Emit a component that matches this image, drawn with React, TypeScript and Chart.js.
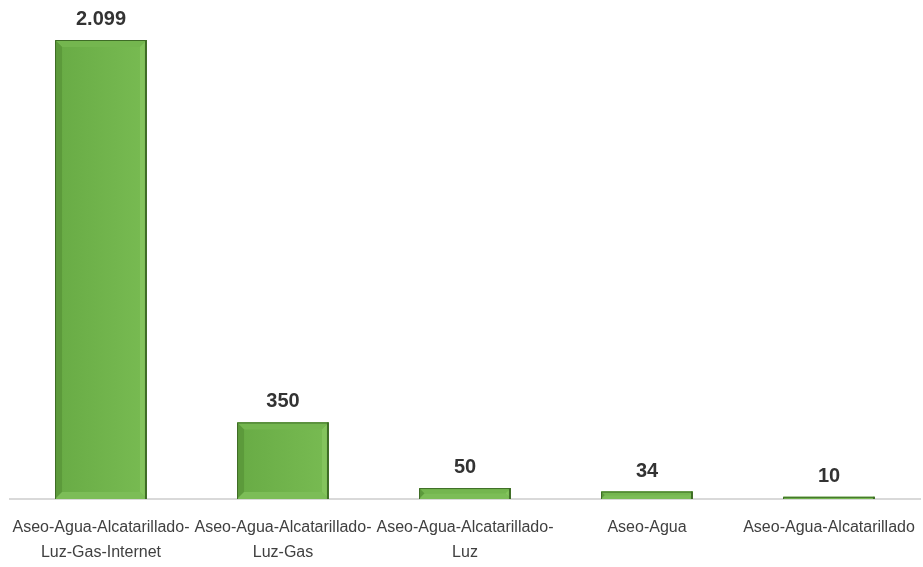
import React, { useEffect, useRef } from "react";
import { Chart, registerables } from "chart.js";

Chart.register(...registerables);

const categories: string[][] = [
  ["Aseo-Agua-Alcatarillado-", "Luz-Gas-Internet"],
  ["Aseo-Agua-Alcatarillado-", "Luz-Gas"],
  ["Aseo-Agua-Alcatarillado-", "Luz"],
  ["Aseo-Agua"],
  ["Aseo-Agua-Alcatarillado"],
];
const values: number[] = [2099, 350, 50, 34, 10];
const valueLabels: string[] = ["2.099", "350", "50", "34", "10"];

const FONT = "'Liberation Sans Narrow', 'Arial Narrow', 'Liberation Sans', sans-serif";

const bevelPlugin = {
  id: "bevel",
  afterDatasetDraw(chart: any) {
    const ctx = chart.ctx;
    const meta = chart.getDatasetMeta(0);
    meta.data.forEach((bar: any, i: number) => {
      const { x, y, base, width } = bar.getProps(["x", "y", "base", "width"], true);
      const l = x - width / 2;
      const r = x + width / 2;
      const t = y;
      const b = base;
      const h = b - t;
      const bw = Math.min(7, h / 2);
      ctx.save();
      const g = ctx.createLinearGradient(l, 0, r, 0);
      g.addColorStop(0, "#68ab45");
      g.addColorStop(1, "#78bb52");
      ctx.fillStyle = g;
      ctx.fillRect(l, t, r - l, h);
      if (h > 4) {
        ctx.fillStyle = "#74b64f";
        ctx.beginPath();
        ctx.moveTo(l, t);
        ctx.lineTo(r, t);
        ctx.lineTo(r - bw, t + bw);
        ctx.lineTo(l + bw, t + bw);
        ctx.closePath();
        ctx.fill();
        ctx.fillStyle = "#5c9a3b";
        ctx.beginPath();
        ctx.moveTo(l, t);
        ctx.lineTo(l + bw, t + bw);
        ctx.lineTo(l + bw, b - bw);
        ctx.lineTo(l, b);
        ctx.closePath();
        ctx.fill();
        ctx.fillStyle = "#84c45d";
        ctx.beginPath();
        ctx.moveTo(r, t);
        ctx.lineTo(r - bw, t + bw);
        ctx.lineTo(r - bw, b - bw);
        ctx.lineTo(r, b);
        ctx.closePath();
        ctx.fill();
        ctx.fillStyle = "#7cbd57";
        ctx.beginPath();
        ctx.moveTo(l, b);
        ctx.lineTo(l + bw, b - bw);
        ctx.lineTo(r - bw, b - bw);
        ctx.lineTo(r, b);
        ctx.closePath();
        ctx.fill();
      }
      ctx.strokeStyle = "#3e6c26";
      ctx.lineWidth = 1;
      ctx.beginPath();
      ctx.moveTo(l + 0.5, b);
      ctx.lineTo(l + 0.5, t + 0.5);
      ctx.lineTo(r - 1, t + 0.5);
      ctx.stroke();
      ctx.lineWidth = 2;
      ctx.beginPath();
      ctx.moveTo(r - 1, t);
      ctx.lineTo(r - 1, b);
      ctx.stroke();
      ctx.fillStyle = "#333333";
      ctx.font = `bold 20px ${FONT}`;
      ctx.textAlign = "center";
      ctx.textBaseline = "alphabetic";
      ctx.fillText(valueLabels[i], x, t - 15);
      ctx.restore();
    });
  },
};

export default function App() {
  const ref = useRef<HTMLCanvasElement>(null);
  useEffect(() => {
    if (!ref.current) return;
    const chart = new Chart(ref.current, {
      type: "bar",
      data: {
        labels: categories,
        datasets: [
          {
            data: values,
            backgroundColor: "#72b84c",
            borderWidth: 0,
            categoryPercentage: 1,
            barPercentage: 0.505,
          },
        ],
      },
      options: {
        animation: false,
        responsive: false,
        layout: { padding: { left: 10, right: 3, top: 40, bottom: 0 } },
        plugins: { legend: { display: false }, tooltip: { enabled: false } },
        scales: {
          y: { display: false, min: 0, max: 2099 },
          x: {
            grid: { display: false, drawTicks: false },
            border: { display: true, color: "#d9d9d9", width: 2 },
            afterFit: (scale: any) => {
              scale.paddingLeft = 0;
              scale.paddingRight = 0;
              scale.height = 68;
            },
            ticks: {
              color: "#404040",
              padding: 16,
              maxRotation: 0,
              autoSkip: false,
              font: { family: FONT, size: 16, lineHeight: 1.55 },
            },
          },
        },
      },
      plugins: [bevelPlugin],
    });
    return () => chart.destroy();
  }, []);
  return (
    <div style={{ position: "absolute", left: 0, top: 0, width: 923, height: 567, background: "#fff" }}>
      <canvas ref={ref} width={923} height={567} style={{ display: "block" }} />
    </div>
  );
}
